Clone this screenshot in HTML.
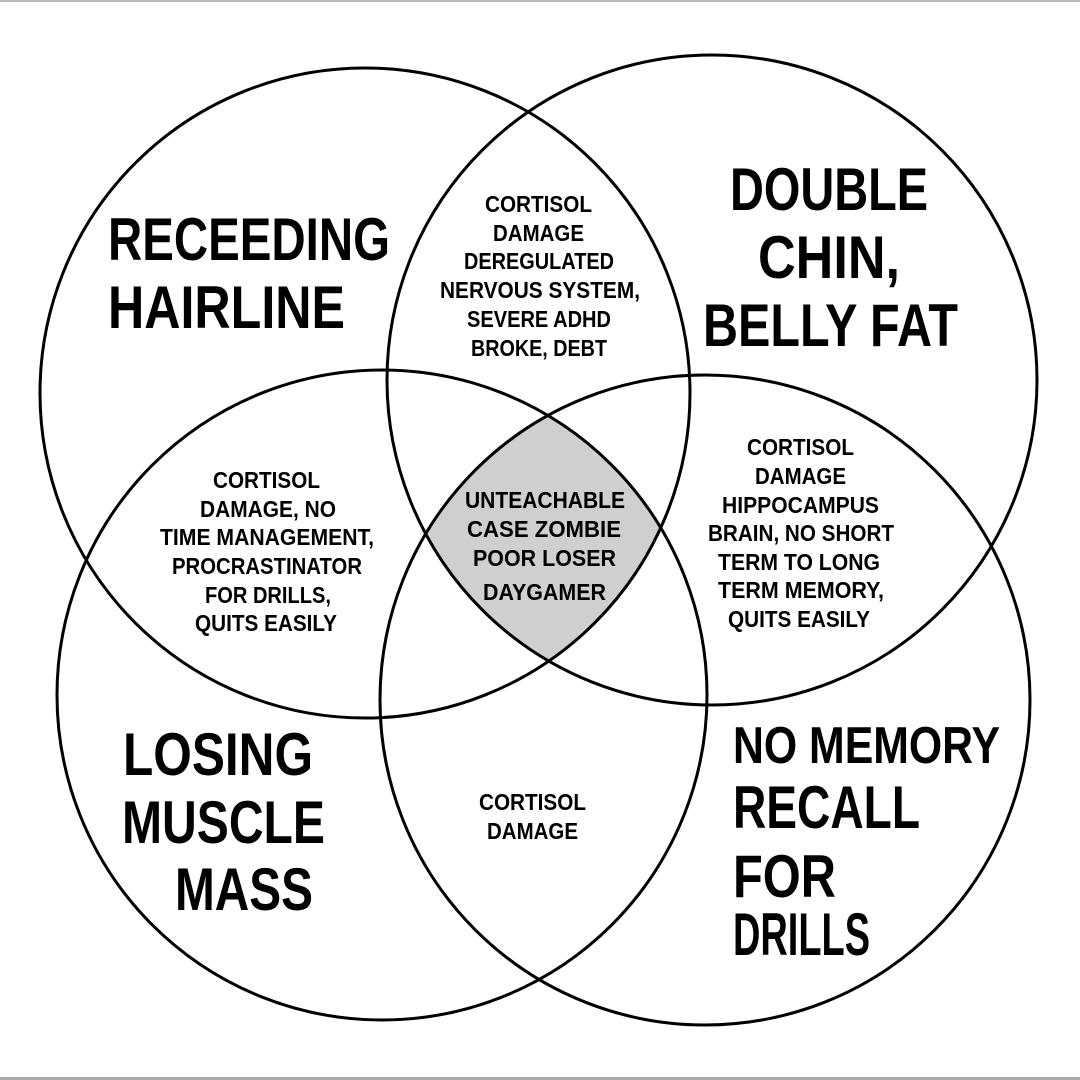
<!DOCTYPE html>
<html><head><meta charset="utf-8"><style>
html,body{margin:0;padding:0;background:#fff}
svg{display:block}
text{font-family:"Liberation Sans",sans-serif;font-weight:bold;fill:#000}
.s{font-size:23px}
.b{font-size:60px}
</style></head><body>
<svg width="1080" height="1080" viewBox="0 0 1080 1080" xmlns="http://www.w3.org/2000/svg">
<defs>
<clipPath id="c1"><circle cx="365" cy="393" r="325"/></clipPath>
<clipPath id="c2"><circle cx="712" cy="380" r="325"/></clipPath>
<clipPath id="c3"><circle cx="382" cy="695" r="325"/></clipPath>
</defs>
<rect x="0" y="0" width="1080" height="2" fill="#bbb"/>
<rect x="0" y="1077" width="1080" height="3" fill="#aaa"/>
<g clip-path="url(#c1)"><g clip-path="url(#c2)"><g clip-path="url(#c3)">
<circle cx="705" cy="700" r="325" fill="#cfcfcf"/></g></g></g>
<g fill="none" stroke="#000" stroke-width="3">
<circle cx="365" cy="393" r="325"/>
<circle cx="712" cy="380" r="325"/>
<circle cx="382" cy="695" r="325"/>
<circle cx="705" cy="700" r="325"/>
</g>
<g class="s">
<text x="485" y="212" textLength="107" lengthAdjust="spacingAndGlyphs">CORTISOL</text>
<text x="493" y="241" textLength="91" lengthAdjust="spacingAndGlyphs">DAMAGE</text>
<text x="464" y="269" textLength="150" lengthAdjust="spacingAndGlyphs">DEREGULATED</text>
<text x="440" y="298" textLength="200" lengthAdjust="spacingAndGlyphs">NERVOUS SYSTEM,</text>
<text x="467" y="327" textLength="144" lengthAdjust="spacingAndGlyphs">SEVERE ADHD</text>
<text x="471" y="356" textLength="136" lengthAdjust="spacingAndGlyphs">BROKE, DEBT</text>

<text x="213" y="488" textLength="107" lengthAdjust="spacingAndGlyphs">CORTISOL</text>
<text x="200" y="517" textLength="136" lengthAdjust="spacingAndGlyphs">DAMAGE, NO</text>
<text x="160" y="545" textLength="214" lengthAdjust="spacingAndGlyphs">TIME MANAGEMENT,</text>
<text x="172" y="574" textLength="190" lengthAdjust="spacingAndGlyphs">PROCRASTINATOR</text>
<text x="205" y="603" textLength="126" lengthAdjust="spacingAndGlyphs">FOR DRILLS,</text>
<text x="195" y="631" textLength="142" lengthAdjust="spacingAndGlyphs">QUITS EASILY</text>

<text x="465" y="508" textLength="160" lengthAdjust="spacingAndGlyphs">UNTEACHABLE</text>
<text x="467" y="537" textLength="154" lengthAdjust="spacingAndGlyphs">CASE ZOMBIE</text>
<text x="473" y="566" textLength="143" lengthAdjust="spacingAndGlyphs">POOR LOSER</text>
<text x="483" y="600" textLength="123" lengthAdjust="spacingAndGlyphs">DAYGAMER</text>

<text x="747" y="455" textLength="107" lengthAdjust="spacingAndGlyphs">CORTISOL</text>
<text x="755" y="484" textLength="91" lengthAdjust="spacingAndGlyphs">DAMAGE</text>
<text x="722" y="513" textLength="157" lengthAdjust="spacingAndGlyphs">HIPPOCAMPUS</text>
<text x="708" y="541" textLength="186" lengthAdjust="spacingAndGlyphs">BRAIN, NO SHORT</text>
<text x="718" y="570" textLength="162" lengthAdjust="spacingAndGlyphs">TERM TO LONG</text>
<text x="718" y="598" textLength="166" lengthAdjust="spacingAndGlyphs">TERM MEMORY,</text>
<text x="728" y="627" textLength="142" lengthAdjust="spacingAndGlyphs">QUITS EASILY</text>

<text x="479" y="810" textLength="107" lengthAdjust="spacingAndGlyphs">CORTISOL</text>
<text x="487" y="839" textLength="91" lengthAdjust="spacingAndGlyphs">DAMAGE</text>
</g>
<g class="b">
<text x="108" y="260" textLength="282" lengthAdjust="spacingAndGlyphs">RECEEDING</text>
<text x="108" y="328" textLength="237" lengthAdjust="spacingAndGlyphs">HAIRLINE</text>
<text x="730" y="210" textLength="198" lengthAdjust="spacingAndGlyphs">DOUBLE</text>
<text x="758" y="278" textLength="142" lengthAdjust="spacingAndGlyphs">CHIN,</text>
<text x="703" y="346" textLength="255" lengthAdjust="spacingAndGlyphs">BELLY FAT</text>
<text x="123" y="775" textLength="190" lengthAdjust="spacingAndGlyphs">LOSING</text>
<text x="122" y="843" textLength="203" lengthAdjust="spacingAndGlyphs">MUSCLE</text>
<text x="175" y="910" textLength="138" lengthAdjust="spacingAndGlyphs">MASS</text>
<text x="733" y="763" style="font-size:52px" textLength="267" lengthAdjust="spacingAndGlyphs">NO MEMORY</text>
<text x="733" y="828" textLength="187" lengthAdjust="spacingAndGlyphs">RECALL</text>
<text x="733" y="897" textLength="103" lengthAdjust="spacingAndGlyphs">FOR</text>
<text x="733" y="955" textLength="137" lengthAdjust="spacingAndGlyphs">DRILLS</text>
</g>
</svg>
</body></html>
